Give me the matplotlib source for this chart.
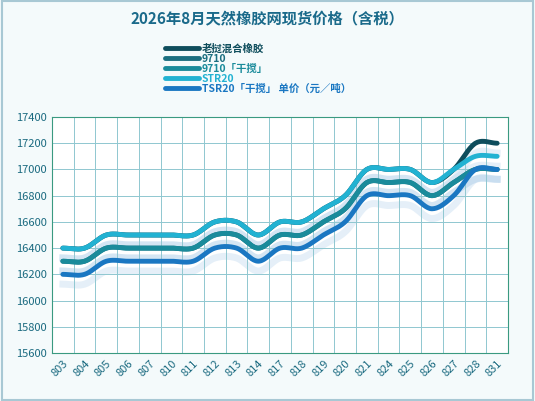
import numpy as np
import matplotlib
matplotlib.use("Agg")
import matplotlib.pyplot as plt

plt.rcParams['font.family'] = ['Noto Sans CJK SC', 'DejaVu Sans']

dates = ["803", "804", "805", "806", "807", "810", "811", "812", "813", "814", "817",
         "818", "819", "820", "821", "824", "825", "826", "827", "828", "831"]
str20 = [16400, 16400, 16500, 16500, 16500, 16500, 16500, 16600, 16600, 16500, 16600,
         16600, 16700, 16800, 17000, 17000, 17000, 16900, 17000, 17100, 17100]
mixed = [16400, 16400, 16500, 16500, 16500, 16500, 16500, 16600, 16600, 16500, 16600,
         16600, 16700, 16800, 17000, 17000, 17000, 16900, 17000, 17200, 17200]
p9710 = [16300, 16300, 16400, 16400, 16400, 16400, 16400, 16500, 16500, 16400, 16500,
         16500, 16600, 16700, 16900, 16900, 16900, 16800, 16900, 17000, 17000]
p9710g = p9710
tsr20 = [16200, 16200, 16300, 16300, 16300, 16300, 16300, 16400, 16400, 16300, 16400,
         16400, 16500, 16600, 16800, 16800, 16800, 16700, 16800, 17000, 17000]


def smooth(y, n=20):
    # catmull-rom curve through the points
    y = np.asarray(y, float)
    x = np.arange(len(y))
    m = np.zeros_like(y)
    m[1:-1] = (y[2:] - y[:-2]) / 2
    xs, ys = [], []
    for i in range(len(y) - 1):
        t = np.linspace(0, 1, n, endpoint=False)
        h00 = 2 * t**3 - 3 * t**2 + 1
        h10 = t**3 - 2 * t**2 + t
        h01 = -2 * t**3 + 3 * t**2
        h11 = t**3 - t**2
        xs.append(x[i] + t)
        ys.append(h00 * y[i] + h10 * m[i] + h01 * y[i + 1] + h11 * m[i + 1])
    xs.append([x[-1]])
    ys.append([y[-1]])
    return np.concatenate(xs), np.concatenate(ys)


fig = plt.figure(figsize=(5.35, 4.01), dpi=100, facecolor="#f4fafb")
ax = fig.add_axes([52 / 535, 48 / 401, 456 / 535, 236 / 401])
ax.set_facecolor("white")

series = [
    ("老挝混合橡胶", mixed, "#0e4d5c"),
    ("9710", p9710, "#1b6f80"),
    ("9710「干搅」", p9710g, "#1a8b9b"),
    ("STR20", str20, "#22b2d2"),
    ("TSR20「干搅」 单价（元／吨）", tsr20, "#1a77c2"),
]
for label, vals, col in series:
    xs, ys = smooth(vals)
    ax.plot(xs, ys - 75, color="#b5d3ec", lw=5, alpha=0.35, zorder=1)
for label, vals, col in series:
    xs, ys = smooth(vals)
    ax.plot(xs, ys, color=col, lw=3.5, label=label, solid_capstyle="round", zorder=3)

ax.set_xlim(-0.5, len(dates) - 0.5)
ax.set_ylim(15600, 17400)
ax.set_yticks(np.arange(15600, 17401, 200))
ax.set_xticks(range(len(dates)))
ax.set_xticklabels(dates, rotation=45, ha="right", rotation_mode="anchor",
                   fontsize=8, color="#1a6a80")
ax.set_xticks(np.arange(-0.5, len(dates), 0.5), minor=True)
ax.tick_params(axis="y", labelsize=8, labelcolor="#1a6a80", length=0)
ax.tick_params(axis="x", which="both", length=0, pad=4)
ax.grid(True, which="minor", axis="x", color="#8fc7d0", lw=0.7)
ax.grid(True, which="major", axis="y", color="#8fc7d0", lw=0.7)
for s in ax.spines.values():
    s.set_color("#3a9a80")
    s.set_linewidth(0.8)

fig.text(0.5, 0.955, "2026年8月天然橡胶网现货价格（含税）", ha="center", va="center",
         fontsize=11, color="#1a6a8a", fontweight="bold")
fig.legend(loc="upper left", bbox_to_anchor=(160 / 535, 0.905), frameon=False,
           prop={"size": 7.5, "weight": "bold"}, handlelength=3.2, labelspacing=0.0,
           borderpad=0, handletextpad=0.3, labelcolor="linecolor")
fig.patches.append(plt.Rectangle((0.003, 0.003), 0.994, 0.994, transform=fig.transFigure,
                                 fill=False, ec="#a8c8d4", lw=1.5))
fig.savefig("out.png", dpi=100, facecolor=fig.get_facecolor())
